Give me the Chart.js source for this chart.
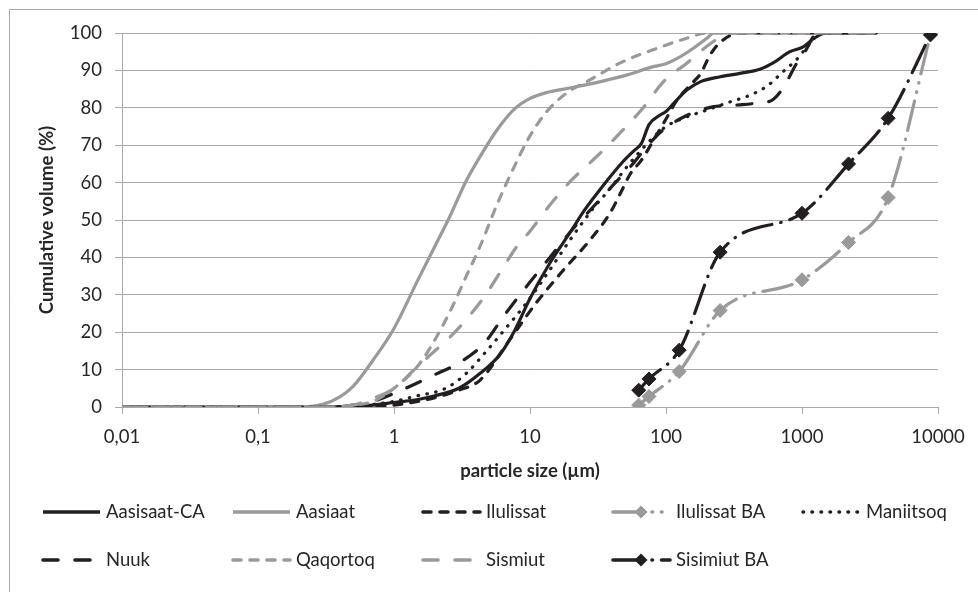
<!DOCTYPE html>
<html>
<head>
<meta charset="utf-8">
<script src="https://cdn.jsdelivr.net/npm/chart.js@4.4.1/dist/chart.umd.min.js"></script>
<style>
html, body { margin: 0; padding: 0; background: #fff; }
#wrap { width: 978px; height: 592px; }
</style>
</head>
<body>
<div id="wrap"><canvas id="sizeChart" width="978" height="592"></canvas></div>
<script>
// tick labels (comma decimals as in the original)
const X_TICKS = [0.01, 0.1, 1, 10, 100, 1000, 10000];
const X_TICK_LABELS = ['0,01', '0,1', '1', '10', '100', '1000', '10000'];

// laser diffraction curves, particle size (µm) / cumulative volume (%)
const SIZES_AASISAAT_CA = [0.01, 0.3, 0.5, 0.7, 1, 1.5, 2, 3, 4.3, 6, 7.6, 10, 14, 20, 25, 35, 48, 58, 66, 75, 90, 100, 114, 143, 180, 250, 350, 490, 613, 815, 1020, 1230, 1500, 3500];
const AASISAAT_CA = [0, 0, 0.2, 0.5, 1.2, 2, 3, 5, 9, 14, 20, 29, 38.5, 47, 52.5, 59.5, 65.5, 68.5, 70.5, 75.5, 78, 79, 81.2, 84.8, 87, 88.3, 89.2, 90.3, 92, 95, 96.3, 98.6, 100, 100];

const SIZES_AASIAAT = [0.01, 0.2, 0.3, 0.4, 0.5, 0.7, 1, 1.5, 2, 2.5, 3.4, 4.3, 5.7, 7.6, 10, 13, 21, 33, 52, 77, 100, 121, 160, 200, 224, 3500];
const AASIAAT = [0, 0, 0.7, 2.7, 5.5, 12.5, 21, 34, 43, 50, 60.5, 67, 74, 79.5, 82.5, 84, 85.5, 87, 88.8, 90.8, 91.8, 93.2, 96, 98.6, 100, 100];

const SIZES_ILULISSAT = [0.01, 0.5, 1, 1.5, 2, 3, 4.3, 7.1, 11.2, 17.6, 27.7, 39, 46, 55, 66, 80, 100, 120, 150, 180, 210, 250, 350, 3500];
const ILULISSAT = [0, 0, 0.5, 1.5, 2.5, 4.5, 7.2, 18, 28, 36.6, 44.7, 52, 57, 62.5, 66, 71, 77, 82, 86, 89.2, 94, 97.5, 100, 100];

const SIZES_MANIITSOQ = [0.01, 0.3, 0.5, 0.7, 1, 1.4, 2.4, 3.4, 4.8, 6.8, 9.5, 13.3, 20, 29, 39, 51, 65, 80, 100, 143, 200, 297, 417, 553, 713, 918, 1090, 1400, 3500];
const MANIITSOQ = [0, 0, 0.3, 0.7, 1.5, 2.8, 5, 9, 15, 21.5, 28, 35.5, 45, 53, 58.5, 64, 68.5, 72, 75, 77.6, 79.4, 81.6, 83.4, 85.8, 89.4, 93, 96.3, 100, 100];

const SIZES_NUUK = [0.01, 0.3, 0.5, 0.7, 1.07, 1.9, 3.1, 4.6, 6.5, 9.8, 14, 20, 30, 40, 57, 70, 92, 143, 224, 350, 500, 600, 700, 800, 900, 1050, 1300, 3500];
const NUUK = [0, 0, 0.5, 1.5, 4.1, 8.3, 12.1, 17, 24.6, 33, 40, 47, 54, 59, 65, 69, 73.6, 78, 80.3, 80.8, 81.4, 82, 84.5, 88, 91.5, 95, 100, 100];

const SIZES_QAQORTOQ = [0.01, 0.3, 0.5, 0.7, 1, 1.5, 2, 2.7, 3.4, 4.3, 5.7, 7.6, 10, 13.3, 18.7, 27.7, 46, 92, 142, 200, 3500];
const QAQORTOQ = [0, 0, 0.5, 1.5, 5, 11, 18, 27, 35, 43, 54, 64, 72.5, 79, 84, 87.5, 92, 96.3, 98.6, 100, 100];

const SIZES_SISMIUT = [0.01, 0.3, 0.5, 0.7, 1, 1.4, 1.9, 2.6, 3.7, 4.8, 6.4, 8, 10, 14, 20, 31, 46, 68, 96, 143, 213, 300, 3500];
const SISMIUT = [0, 0, 0.5, 2.3, 5, 9.9, 14.3, 18.8, 25, 30.4, 37.5, 42.9, 47, 54, 60.5, 67, 73.3, 80, 87, 92, 97.2, 100, 100];

// sieve analyses (BA)
const SIEVE_SIZES = [63, 75, 125, 250, 1000, 2200, 4300, 8800];
const ILULISSAT_BA = [0.5, 2.8, 9.5, 25.8, 34, 44, 56, 99.5];
const SISIMIUT_BA = [4.5, 7.5, 15.2, 41.4, 51.8, 65, 77.2, 99.5];

const BLACK = '#231f20';
const GREY = '#9a9a9a';
const GRID = '#a9a9a9';
const TEXT = '#262626';
const FONT = 'Lato, "Open Sans", sans-serif';

function toPoints(sizes, values) {
    return sizes.map((s, i) => ({ x: s, y: values[i] }));
}

function series(label, sizes, values, color, dash, diamonds) {
    return {
        label: label,
        data: toPoints(sizes, values),
        borderColor: color,
        backgroundColor: color,
        borderWidth: 3.2,
        borderDash: dash,
        borderCapStyle: dash.length ? 'round' : 'butt',
        borderJoinStyle: 'round',
        cubicInterpolationMode: 'monotone',
        fill: false,
        pointStyle: diamonds ? 'rectRot' : false,
        pointRadius: diamonds ? 7 : 0,
        pointBorderWidth: 1,
        pointBorderColor: color,
        pointBackgroundColor: color
    };
}

const datasets = [
    series('Aasisaat-CA', SIZES_AASISAAT_CA, AASISAAT_CA, BLACK, [], false),
    series('Aasiaat', SIZES_AASIAAT, AASIAAT, GREY, [], false),
    series('Ilulissat', SIZES_ILULISSAT, ILULISSAT, BLACK, [8, 9], false),
    series('Ilulissat BA', SIEVE_SIZES, ILULISSAT_BA, GREY, [30, 9, 0.5, 9, 0.5, 9], true),
    series('Maniitsoq', SIZES_MANIITSOQ, MANIITSOQ, BLACK, [0.5, 8.5], false),
    series('Nuuk', SIZES_NUUK, NUUK, BLACK, [15, 17], false),
    series('Qaqortoq', SIZES_QAQORTOQ, QAQORTOQ, GREY, [8, 9], false),
    series('Sismiut', SIZES_SISMIUT, SISMIUT, GREY, [15, 17], false),
    series('Sisimiut BA', SIEVE_SIZES, SISIMIUT_BA, BLACK, [30, 9, 0.5, 9], true)
];
// later series on top, like the original
datasets.forEach((d, i) => { d.order = datasets.length - i; });

/* frame round the chart */
const framePlugin = {
    id: 'frame',
    beforeDraw(chart) {
        const ctx = chart.ctx;
        ctx.save();
        ctx.fillStyle = '#fff';
        ctx.fillRect(0, 0, chart.width, chart.height);
        ctx.strokeStyle = '#a6a6a6';
        ctx.lineWidth = 1;
        ctx.beginPath();
        ctx.moveTo(9.5, chart.height);
        ctx.lineTo(9.5, 9.5);
        ctx.lineTo(chart.width, 9.5);
        ctx.stroke();
        ctx.restore();
    }
};

/* legend in 5 columns, 2 rows */
const legendPlugin = {
    id: 'colLegend',
    afterDraw(chart) {
        const ctx = chart.ctx;
        ctx.save();
        chart.data.datasets.forEach((ds, i) => {
            const col = i % 5;
            const row = Math.floor(i / 5);
            const x0 = 43 + col * 190;
            const y = row === 0 ? 512 : 560;
            ctx.strokeStyle = ds.borderColor;
            ctx.lineWidth = 3.6;
            ctx.lineCap = ds.borderCapStyle;
            ctx.setLineDash(ds.borderDash);
            ctx.beginPath();
            ctx.moveTo(x0, y);
            ctx.lineTo(x0 + 57, y);
            ctx.stroke();
            ctx.setLineDash([]);
            if (ds.pointStyle) {
                const cx = x0 + 28, r = 6.5;
                ctx.fillStyle = ds.borderColor;
                ctx.beginPath();
                ctx.moveTo(cx - r, y);
                ctx.lineTo(cx, y - r);
                ctx.lineTo(cx + r, y);
                ctx.lineTo(cx, y + r);
                ctx.closePath();
                ctx.fill();
            }
            ctx.fillStyle = TEXT;
            ctx.font = '18.5px ' + FONT;
            ctx.textBaseline = 'middle';
            ctx.textAlign = 'left';
            ctx.fillText(ds.label, x0 + 63, y);
        });
        ctx.restore();
    }
};

const ctx = document.getElementById('sizeChart').getContext('2d');

new Chart(ctx, {
    type: 'line',

    data: { datasets: datasets },

    options: {
        responsive: false,
        animation: false,
        devicePixelRatio: 1,
        layout: { padding: { left: 0, right: 40, top: 33, bottom: 107 } },
        plugins: {
            legend: { display: false },
            tooltip: { enabled: false }
        },
        scales: {
            x: {
                type: 'logarithmic',
                min: 0.01,
                max: 10000,
                afterBuildTicks: (s) => { s.ticks = X_TICKS.map(v => ({ value: v })); },
                afterFit: (s) => { s.height = 78; },
                ticks: {
                    autoSkip: false,
                    maxRotation: 0,
                    padding: 12,
                    color: TEXT,
                    font: { family: FONT, size: 18.5 },
                    callback: (v, i) => X_TICK_LABELS[i]
                },
                grid: { drawOnChartArea: false, drawTicks: true, tickLength: 7, color: GRID },
                border: { color: GRID },
                title: {
                    display: true,
                    text: 'particle size (µm)',
                    color: TEXT,
                    font: { family: FONT, size: 18.5, weight: 'bold' },
                    padding: { top: 0, bottom: 3 }
                }
            },
            y: {
                min: 0,
                max: 100,
                afterFit: (s) => { s.width = 122; },
                ticks: {
                    stepSize: 10,
                    padding: 13,
                    color: TEXT,
                    font: { family: FONT, size: 18.5 }
                },
                grid: { color: GRID, tickLength: 7 },
                border: { color: GRID },
                title: {
                    display: true,
                    text: 'Cumulative volume (%)',
                    color: TEXT,
                    font: { family: FONT, size: 18.5, weight: 'bold' },
                    padding: { top: 36, bottom: 0 }
                }
            }
        }
    },
    plugins: [framePlugin, legendPlugin]
});
</script>
</body>
</html>
